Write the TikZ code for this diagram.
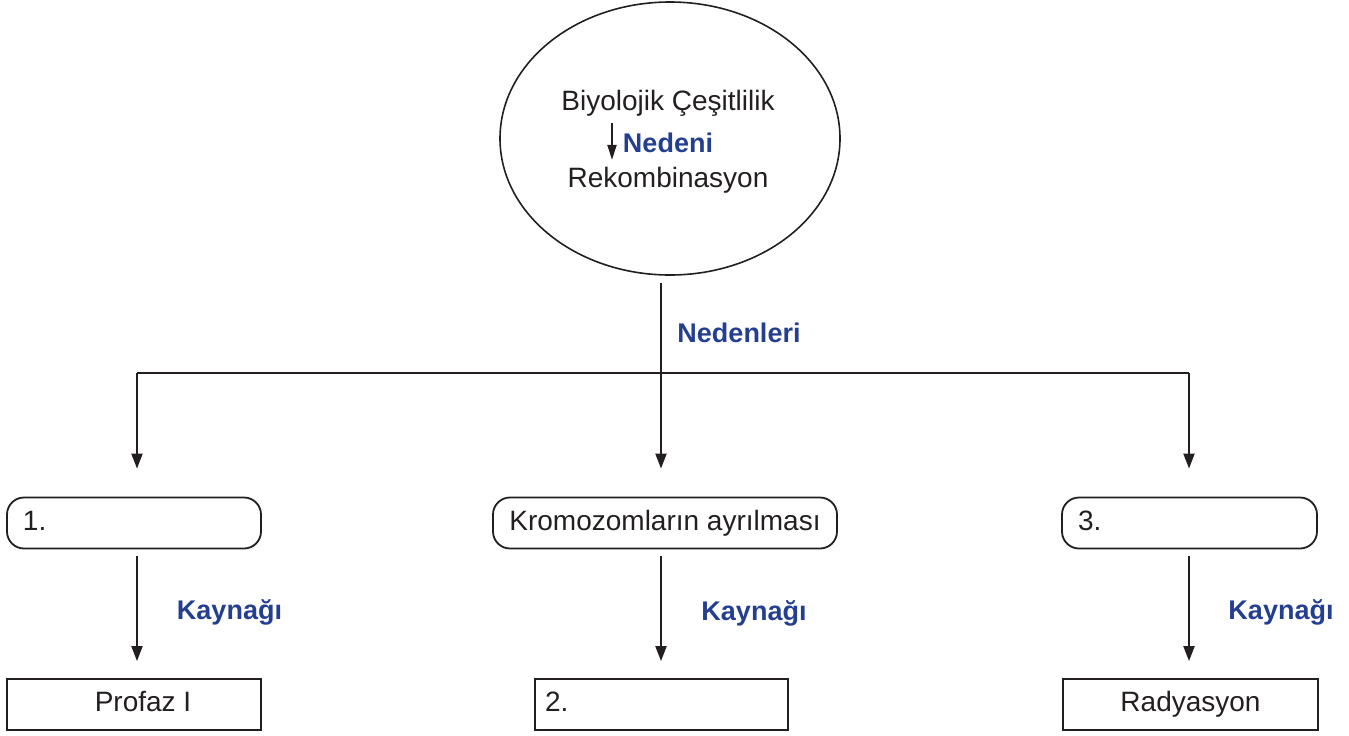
\documentclass[tikz,border=0pt]{standalone}
\usepackage{fontspec}
\setmainfont{Liberation Sans}
\usepackage{tikz}
\usetikzlibrary{shapes.geometric,arrows.meta}
\definecolor{koyu}{HTML}{231F20}
\definecolor{mavi}{HTML}{243F8F}

\begin{document}
\begin{tikzpicture}[x=0.5pt,y=-0.5pt,
        every node/.style={text=koyu,font=\fontsize{14}{16}\selectfont},
        rbox/.style={draw=koyu,line width=0.9pt,rounded corners=8.5pt,minimum height=25.5pt,inner xsep=8pt,text height=10pt,text depth=3pt},
        sbox/.style={draw=koyu,line width=0.9pt,minimum height=25.5pt,inner xsep=8pt,text height=10pt,text depth=3pt},
        lbl/.style={text=mavi,font=\fontsize{13.5}{16}\selectfont\bfseries},
        arr/.style={draw=koyu,line width=1pt,-{Triangle[length=7.5pt,width=5.5pt]}}]
                \useasboundingbox (0,0) rectangle (1349,735);

                \draw (670,138.5) node[ellipse,draw=koyu,line width=0.8pt,minimum width=170pt,minimum height=136.5pt] (ell) {};
                \draw (668,103) node (t1) {Biyolojik Çeşitlilik};
                \draw (668,143) node[lbl] (t0) {Nedeni};
                \draw (668,180) node (t2) {Rekombinasyon};
                \coordinate (ok) at (612,0);
                \draw[arr,-{Triangle[length=7.5pt,width=4.5pt]}] (t1.south -| ok) -- (t2.north -| ok);

                \coordinate (top) at (661,283);
                \coordinate (m) at (661,373);
                \coordinate (j1) at (137,373);
                \coordinate (j3) at (1189,373);
                \draw[draw=koyu,line width=1pt] (top) -- (m);
                \draw[draw=koyu,line width=1pt] (j1) -- (j3);
                \draw (739,333) node[lbl] (nedenler) {Nedenleri};

                \draw (134,523) node[rbox,text width=111pt,align=left] (b1) {1.};
                \draw (665,523) node[rbox,minimum width=172pt] (b2) {Kromozomların ayrılması};
                \draw (1189.5,523) node[rbox,text width=111.5pt,align=left] (b3) {3.};

                \draw[arr,shorten >=14pt] (j1) -- (j1 |- b1.north);
                \draw[arr,shorten >=14pt] (m) -- (m |- b2.north);
                \draw[arr,shorten >=14pt] (j3) -- (j3 |- b3.north);

                \draw (134,704.5) node[sbox,minimum width=127pt] (c1) {\hspace{9pt}Profaz I};
                \draw (661.5,704.5) node[sbox,inner xsep=5pt,text width=116.5pt,align=left] (c2) {2.};
                \draw (1190.5,704.5) node[sbox,minimum width=127.5pt] (c3) {Radyasyon\hspace{9pt}};

                \draw[arr,shorten <=3.5pt,shorten >=8.5pt] (b1.south -| j1) -- (c1.north -| j1);
                \draw[arr,shorten <=3.5pt,shorten >=8.5pt] (b2.south -| m) -- (c2.north -| m);
                \draw[arr,shorten <=3.5pt,shorten >=8.5pt] (b3.south -| j3) -- (c3.north -| j3);

                \draw (229.5,612) node[lbl] (k1) {Kaynağı};
                \draw (754,613) node[lbl] (k2) {Kaynağı};
                \draw (1281,612) node[lbl] (k3) {Kaynağı};
\end{tikzpicture}
\end{document}
